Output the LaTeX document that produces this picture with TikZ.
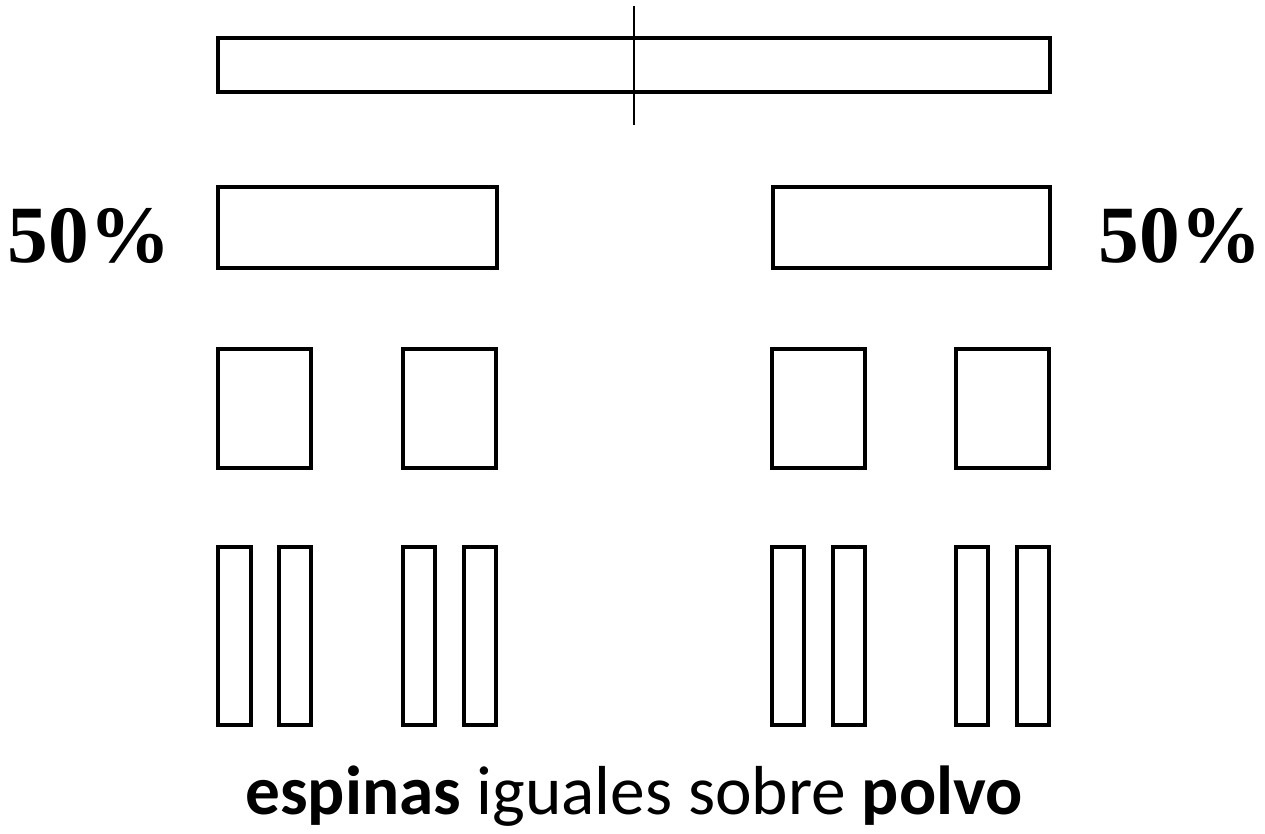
\documentclass[tikz,border=0pt]{standalone}
\usepackage{fontspec}
\setmainfont{Carlito}
\newfontfamily\pctfont{Liberation Serif}
\begin{document}
\begin{tikzpicture}[x=0.75pt,y=-0.75pt,
  bar/.style={draw=black,line width=2.3pt,fill=none},
  pct/.style={font=\pctfont\bfseries\fontsize{61}{63}\selectfont,inner sep=0pt},
  caption/.style={font=\fontsize{52}{56}\selectfont,inner sep=0pt}]
\useasboundingbox (0,0) rectangle (1265,833);
% top bar
\draw[bar] (218,38) rectangle (1050,92);
\coordinate (ct) at (634,6);
\coordinate (cb) at (634,125);
\draw[line width=1.2pt] (ct) -- (cb);
% halves
\draw[bar] (218,187) rectangle (497,268);
\draw[bar] (773,187) rectangle (1050,268);
% quarters
\draw[bar] (218,349) rectangle (311,468);
\draw[bar] (403,349) rectangle (496,468);
\draw[bar] (772,349) rectangle (865,468);
\draw[bar] (956,349) rectangle (1049,468);
% eighths
\foreach \a/\b in {218/251,279/311,403/435,464/496,772/804,833/865,956/988,1017/1049}
  \draw[bar] (\a,547) rectangle (\b,725);
% labels
\node[pct,anchor=base] (pl) at (89,262) {50\%};
\node[pct,anchor=base] (pr) at (1180,262) {50\%};
\node[caption,anchor=base] (cap) at (634,814) {\textbf{espinas} iguales sobre \textbf{polvo}};
\end{tikzpicture}
\end{document}
